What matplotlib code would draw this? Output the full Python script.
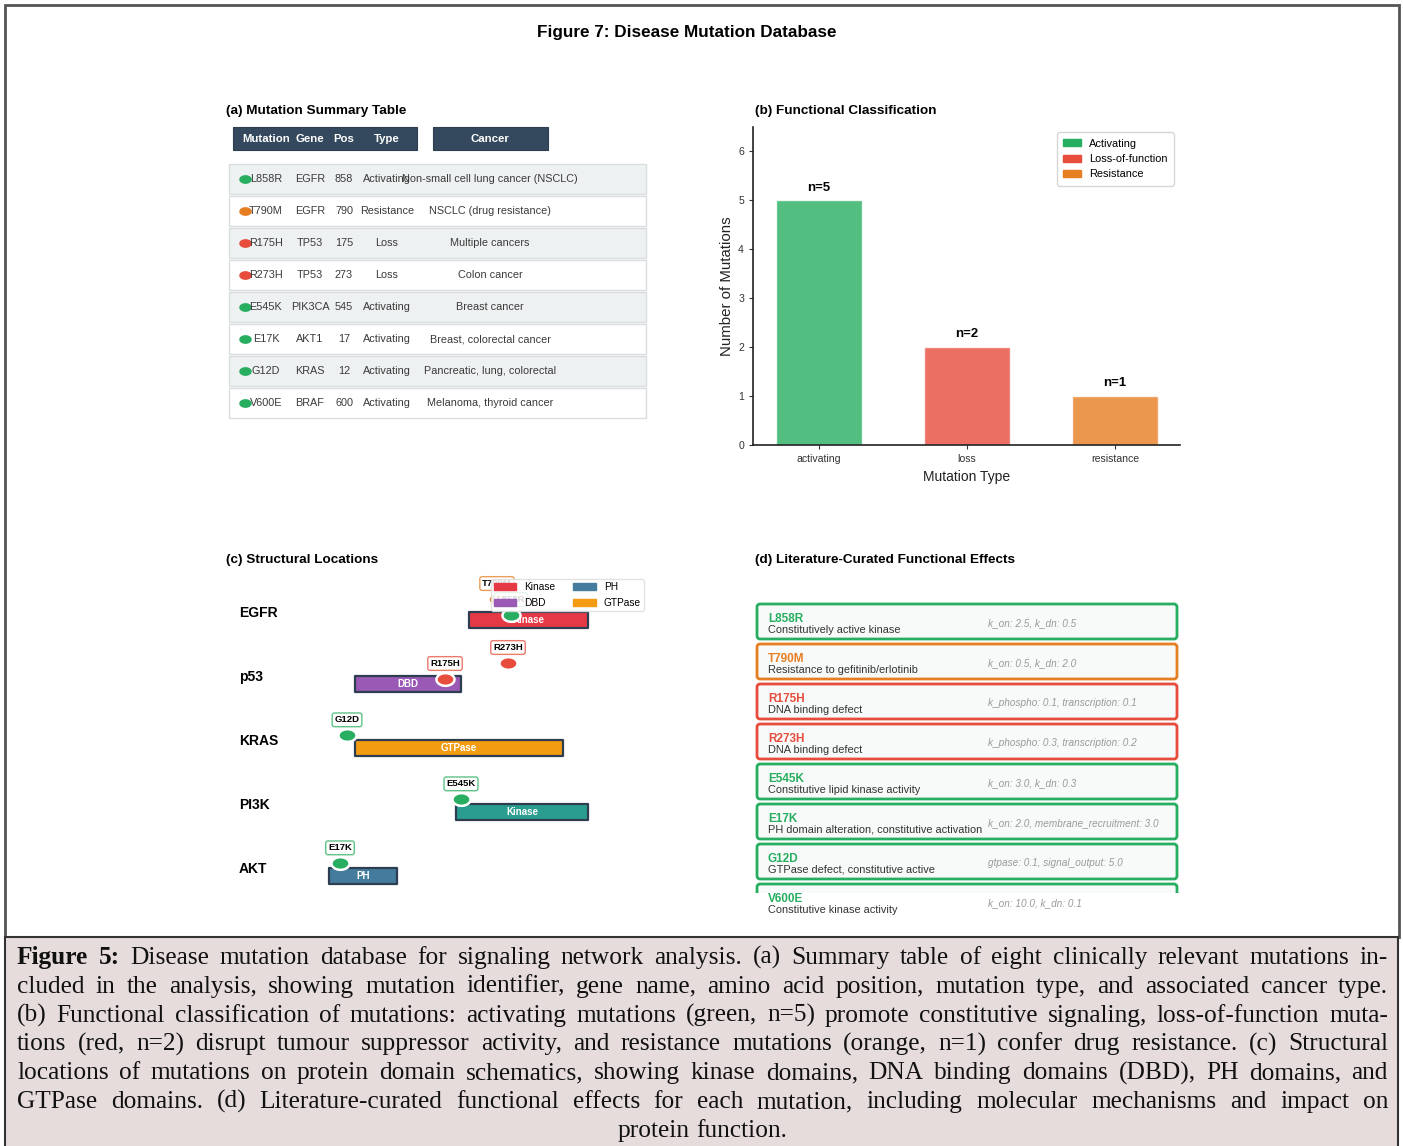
import numpy as np
import matplotlib
matplotlib.use("Agg")
import matplotlib.pyplot as plt
from matplotlib.patches import Rectangle, FancyBboxPatch, Patch
from matplotlib.path import Path


W, H = 1403, 1146
SANS = ["Liberation Sans", "DejaVu Sans"]
SERIF = ["Liberation Serif", "DejaVu Serif"]
plt.rcParams["font.family"] = SANS

# mutation database
mutations = ["L858R", "T790M", "R175H", "R273H", "E545K", "E17K", "G12D", "V600E"]
genes = ["EGFR", "EGFR", "TP53", "TP53", "PIK3CA", "AKT1", "KRAS", "BRAF"]
positions = [858, 790, 175, 273, 545, 17, 12, 600]
mut_types = ["Activating", "Resistance", "Loss", "Loss",
             "Activating", "Activating", "Activating", "Activating"]
cancers = ["Non-small cell lung cancer (NSCLC)", "NSCLC (drug resistance)",
           "Multiple cancers", "Colon cancer", "Breast cancer",
           "Breast, colorectal cancer", "Pancreatic, lung, colorectal",
           "Melanoma, thyroid cancer"]
effects = ["Constitutively active kinase", "Resistance to gefitinib/erlotinib",
           "DNA binding defect", "DNA binding defect",
           "Constitutive lipid kinase activity",
           "PH domain alteration, constitutive activation",
           "GTPase defect, constitutive active", "Constitutive kinase activity"]
kinetics = ["k_on: 2.5, k_dn: 0.5", "k_on: 0.5, k_dn: 2.0",
            "k_phospho: 0.1, transcription: 0.1",
            "k_phospho: 0.3, transcription: 0.2",
            "k_on: 3.0, k_dn: 0.3", "k_on: 2.0, membrane_recruitment: 3.0",
            "gtpase: 0.1, signal_output: 5.0", "k_on: 10.0, k_dn: 0.1"]

type_colors = {"Activating": "#27ae60", "Resistance": "#e67e22", "Loss": "#e74c3c"}

# functional classes
class_keys = ["Activating", "Loss", "Resistance"]
class_ticks = ["activating", "loss", "resistance"]
class_legend = ["Activating", "Loss-of-function", "Resistance"]
class_counts = [mut_types.count(k) for k in class_keys]

# protein schematics (track units along each protein row)
schem_genes = ["EGFR", "p53", "KRAS", "PI3K", "AKT"]
domain_names = ["Kinase", "DBD", "GTPase", "Kinase", "PH"]
domain_start = [243, 129, 129, 230, 103]
domain_end = [362, 235, 337, 362, 171]
domain_colors = ["#e63946", "#9b59b6", "#f39c12", "#2a9d8f", "#457b9d"]
site_names = ["L858R", "T790M", "R175H", "R273H", "G12D", "E545K", "E17K"]
site_row = [0, 0, 1, 1, 2, 3, 4]
site_pos = [285, 271, 219, 282, 121, 235, 114]
site_lift = [0.08, 0.33, 0.08, 0.33, 0.2, 0.2, 0.2]
site_types = ["Activating", "Resistance", "Loss", "Loss",
              "Activating", "Activating", "Activating"]

caption_lines = [
    "Figure 5: Disease mutation database for signaling network analysis. (a) Summary table of eight clinically relevant mutations in-",
    "cluded in the analysis, showing mutation identifier, gene name, amino acid position, mutation type, and associated cancer type.",
    "(b) Functional classification of mutations: activating mutations (green, n=5) promote constitutive signaling, loss-of-function muta-",
    "tions (red, n=2) disrupt tumour suppressor activity, and resistance mutations (orange, n=1) confer drug resistance. (c) Structural",
    "locations of mutations on protein domain schematics, showing kinase domains, DNA binding domains (DBD), PH domains, and",
    "GTPase domains. (d) Literature-curated functional effects for each mutation, including molecular mechanisms and impact on",
    "protein function.",
]

t = np.linspace(0, 2 * np.pi, 60)
OVAL = Path(np.column_stack([np.cos(t), 0.7 * np.sin(t)]), closed=True)


fig = plt.figure(figsize=(W / 100, H / 100), dpi=100)


def px_axes(x0, y0, x1, y1, zorder=1):
    ax = fig.add_axes([x0 / W, 1 - y1 / H, (x1 - x0) / W, (y1 - y0) / H])
    ax.set_xlim(x0, x1)
    ax.set_ylim(y1, y0)
    ax.axis("off")
    ax.set_zorder(zorder)
    return ax


def ftext(x, y, s, **kw):
    return fig.text(x / W, 1 - y / H, s, **kw)


# page frame and caption box
bg = px_axes(0, 0, W, H, zorder=0)
bg.add_patch(Rectangle((5, 5), 1394, 932, facecolor="white", edgecolor="#555555", lw=2))
bg.add_patch(Rectangle((5, 937), 1393, 220, facecolor="#e6dcdc", edgecolor="#333333", lw=1.5))

ftext(687, 33, "Figure 7: Disease Mutation Database", ha="center", va="center",
      fontsize=12.3, fontweight="bold")

# (a) summary table
ftext(226, 111, "(a) Mutation Summary Table", va="center", fontsize=9.7, fontweight="bold")
ax_a = px_axes(222, 120, 652, 425)
ax_a.add_patch(Rectangle((233, 127), 184, 23, facecolor="#34495e", edgecolor="#2c3e50", lw=0.8))
ax_a.add_patch(Rectangle((433, 127), 115, 23, facecolor="#34495e", edgecolor="#2c3e50", lw=0.8))
col_x = [266, 310, 344, 387, 490]
for cx, head in zip(col_x, ["Mutation", "Gene", "Pos", "Type", "Cancer"]):
    ax_a.text(cx, 139, head, ha="center", va="center", color="white",
              fontsize=8.2, fontweight="bold")

for i, mut in enumerate(mutations):
    yc = 179 + 32 * i
    face = "#eef1f2" if i % 2 == 0 else "white"
    ax_a.add_patch(Rectangle((229, yc - 15), 417, 30, facecolor=face,
                             edgecolor="#d9dddf", lw=1))
    ax_a.plot(245.5, yc, marker=OVAL, ms=9, color=type_colors[mut_types[i]],
              markeredgewidth=0, zorder=3)
    row = [mut, genes[i], str(positions[i]), mut_types[i], cancers[i]]
    for cx, s in zip(col_x, row):
        ax_a.text(cx, yc, s, ha="center", va="center", fontsize=7.8, color="#3a3a3a")

# (b) functional classification
ftext(755, 111, "(b) Functional Classification", va="center", fontsize=9.7, fontweight="bold")
ax_b = fig.add_axes([753 / W, 1 - 445 / H, 427 / W, 318 / H])
xs = np.arange(len(class_keys))
bar_colors = [type_colors[k] for k in class_keys]
ax_b.bar(xs, class_counts, width=0.58, color=bar_colors, alpha=0.8,
         edgecolor="white", linewidth=1)
for xi, c in zip(xs, class_counts):
    ax_b.text(xi, c + 0.14, f"n={c}", ha="center", va="bottom",
              fontsize=9.5, fontweight="bold")
ax_b.set_xlim(-0.446, 2.44)
ax_b.set_ylim(0, 6.5)
ax_b.set_yticks(range(7))
ax_b.set_xticks(xs, class_ticks)
ax_b.tick_params(labelsize=7.6, colors="#333333", length=3)
ax_b.set_xlabel("Mutation Type", fontsize=10, color="#222222", labelpad=4)
ax_b.set_ylabel("Number of Mutations", fontsize=10.8, color="#222222", labelpad=3)
for side in ["top", "right"]:
    ax_b.spines[side].set_visible(False)
for side in ["left", "bottom"]:
    ax_b.spines[side].set_color("#222222")
    ax_b.spines[side].set_linewidth(1.2)
ax_b.legend(handles=[Patch(color=c, label=l) for c, l in zip(bar_colors, class_legend)],
            loc="upper right", fontsize=7.9, frameon=True, edgecolor="#cccccc",
            handlelength=1.7, handleheight=0.6, borderpad=0.55, labelspacing=0.5,
            handletextpad=0.7, bbox_to_anchor=(0.998, 1.0))

# (c) structural locations
ftext(226, 560, "(c) Structural Locations", va="center", fontsize=9.7, fontweight="bold")
ax_c = fig.add_axes([226 / W, 1 - 900 / H, 420 / W, 328 / H])
ax_c.set_xlim(0, 420)
ax_c.set_ylim(-0.375, 4.75)
ax_c.axis("off")
n_rows = len(schem_genes)
for r, gname in enumerate(schem_genes):
    yr = n_rows - 1 - r
    ax_c.text(13, yr + 0.11, gname, va="center", fontsize=10, fontweight="bold")
    x0, x1 = domain_start[r], domain_end[r]
    ax_c.add_patch(Rectangle((x0, yr - 0.125), x1 - x0, 0.25,
                             facecolor=domain_colors[r], edgecolor="#2c3e50", lw=1.6,
                             joinstyle="round"))
    ax_c.text((x0 + x1) / 2, yr, domain_names[r], ha="center", va="center",
              color="white", fontsize=7, fontweight="bold")

for name, r, xp, lift, mt in zip(site_names, site_row, site_pos, site_lift, site_types):
    yr = n_rows - 1 - r + lift
    col = type_colors[mt]
    ax_c.plot(xp, yr, marker=OVAL, ms=13, color=col, markeredgecolor="white",
              markeredgewidth=1.8, zorder=4)
    ax_c.text(xp, yr + 0.24, name, ha="center", va="center", fontsize=6.8,
              fontweight="bold", zorder=5,
              bbox=dict(boxstyle="round,pad=0.25", facecolor="white",
                        edgecolor=col, alpha=0.75, lw=1))

legend_domains = ["Kinase", "DBD", "PH", "GTPase"]
legend_colors = ["#e63946", "#9b59b6", "#457b9d", "#f39c12"]
leg_c = ax_c.legend(handles=[Patch(color=c, label=l) for c, l in zip(legend_colors, legend_domains)],
                    loc="upper right", ncol=2, fontsize=7.3, framealpha=0.85,
                    edgecolor="#dddddd", handlelength=2.2, handleheight=0.6,
                    columnspacing=1.8, labelspacing=0.6, borderpad=0.3,
                    borderaxespad=0.2, bbox_to_anchor=(1.0, 0.985))
leg_c.set_zorder(10)

# (d) literature-curated effects
ftext(755, 560, "(d) Literature-Curated Functional Effects", va="center",
      fontsize=9.7, fontweight="bold")
ax_d = px_axes(750, 575, 1185, 893)
for i, mut in enumerate(mutations):
    top = 604 + 40 * i
    col = type_colors[mut_types[i]]
    ax_d.add_patch(FancyBboxPatch((757, top), 420, 35,
                                  boxstyle="round,pad=0,rounding_size=3",
                                  facecolor="#f8f9f9", edgecolor=col, lw=2))
    ax_d.text(768, top + 15, mut, color=col, fontsize=8.5, fontweight="bold",
              va="center")
    ax_d.text(768, top + 26, effects[i], color="#333333", fontsize=7.9, va="center")
    ax_d.text(988, top + 19, kinetics[i], color="#999999", fontsize=7.2,
              style="italic", va="center")

# caption, fully justified
renderer = fig.canvas.get_renderer()
left, right = 17, 1388
cap_size = 18.3
for k, line in enumerate(caption_lines):
    base = 964 + 28.8 * k
    words = line.split(" ")
    arts = []
    for j, w in enumerate(words):
        bold = k == 0 and j < 2
        arts.append(ftext(0, base, w, fontsize=cap_size, family=SERIF, va="baseline",
                          color="#111111", fontweight="bold" if bold else "normal"))
    widths = [a.get_window_extent(renderer).width for a in arts]
    if k == len(caption_lines) - 1:
        gap = 0.25 * cap_size * 100 / 72
        x = (left + right) / 2 - (sum(widths) + gap * (len(words) - 1)) / 2
    else:
        gap = (right - left - sum(widths)) / (len(words) - 1)
        x = left
    for a, wd in zip(arts, widths):
        a.set_x(x / W)
        x += wd + gap

fig.savefig("out.png", dpi=100)
